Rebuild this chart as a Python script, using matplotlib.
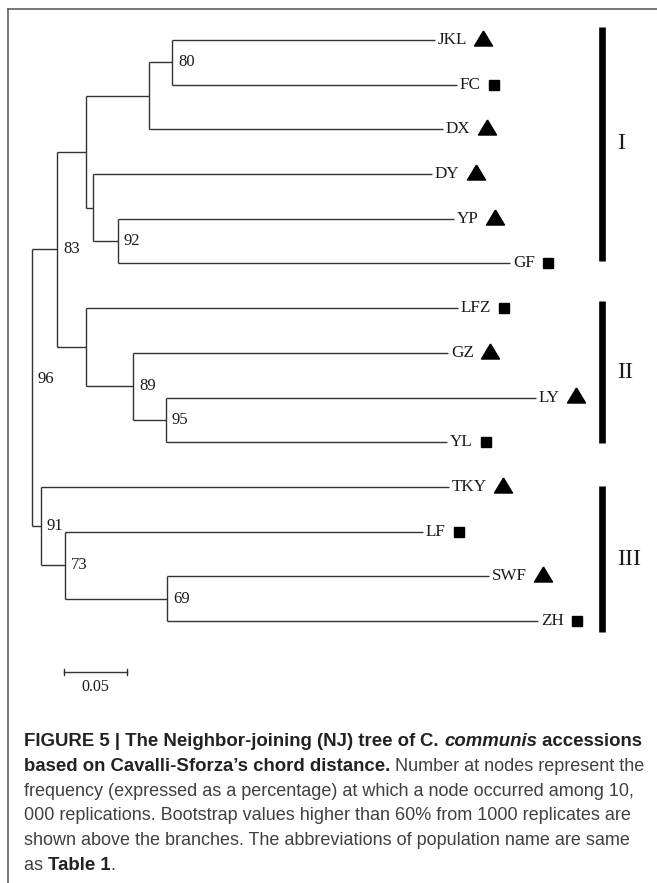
import matplotlib
matplotlib.use("Agg")
import matplotlib.pyplot as plt
from matplotlib.lines import Line2D

# ---------------- data ----------------
leaf_names = ["JKL", "FC", "DX", "DY", "YP", "GF", "LFZ", "GZ", "LY", "YL",
              "TKY", "LF", "SWF", "ZH"]
leaf_parent = ["n80", "n80", "nB", "nC", "n92", "n92", "nII", "n89", "n95", "n95",
               "n91", "n73", "n69", "n69"]
leaf_branch = [0.2087, 0.2262, 0.2333, 0.2690, 0.2667, 0.3111, 0.2952, 0.2500,
               0.2937, 0.2230, 0.3238, 0.2841, 0.2556, 0.2944]
leaf_symbol = ["tri", "sq", "tri", "tri", "tri", "sq", "sq", "tri", "tri", "sq",
               "tri", "sq", "tri", "sq"]

node_names = ["root", "n83", "nI", "nB", "n80", "nC", "n92", "nII", "n89", "n95",
              "n91", "n73", "n69"]
node_parent = [None, "root", "n83", "nI", "nB", "nI", "nC", "n83", "nII", "n89",
               "root", "n91", "n73"]
node_branch = [0.0, 0.0198, 0.0230, 0.0500, 0.0183, 0.0056, 0.0198, 0.0230,
               0.0373, 0.0262, 0.0071, 0.0190, 0.0810]
node_support = ["96", "83", "", "", "80", "", "92", "", "89", "95", "91", "73", "69"]

clade_labels = ["I", "II", "III"]
clade_top = [-0.30, 5.85, 9.98]      # in leaf-row units
clade_bottom = [4.95, 9.02, 13.25]

scale_length = 0.05
scale_label = "0.05"

caption_lines = [
    [("FIGURE 5 | The Neighbor-joining (NJ) tree of ", "bold", "normal"),
     ("C. ", "bold", "normal"), ("communis", "bold", "italic"),
     (" accessions", "bold", "normal")],
    [("based on Cavalli-Sforza\u2019s chord distance.", "bold", "normal"),
     (" Number at nodes represent the", "normal", "normal")],
    [("frequency (expressed as a percentage) at which a node occurred among 10,", "normal", "normal")],
    [("000 replications. Bootstrap values higher than 60% from 1000 replicates are", "normal", "normal")],
    [("shown above the branches. The abbreviations of population name are same", "normal", "normal")],
    [("as ", "normal", "normal"), ("Table 1", "bold", "normal"), (".", "normal", "normal")],
]

# ---------------- layout ----------------
W, H = 657, 883
DPI = 100
K = 0.05 / 63.0          # distance units per pixel
ROOT_PX = 32             # pixel x of root
ROW0_PX, ROW_PX = 40, 44.69

fig = plt.figure(figsize=(W / DPI, H / DPI), dpi=DPI)
ax = fig.add_axes([0, 0, 1, 1])
ax.set_xlim((0 - ROOT_PX) * K, (W - ROOT_PX) * K)
ax.set_ylim((H - ROW0_PX) / ROW_PX, (0 - ROW0_PX) / ROW_PX)
ax.axis("off")

serif = ["Liberation Serif", "DejaVu Serif"]
sans = ["Liberation Sans", "DejaVu Sans"]
line_col = "#333333"
lw = 1.0

# compute positions
xpos, ypos = {}, {}
children = {n: [] for n in node_names}
for i, n in enumerate(node_names):
    p = node_parent[i]
    if p is not None:
        children[p].append(n)
for i, n in enumerate(leaf_names):
    children[leaf_parent[i]].append(n)
branch = dict(zip(node_names, node_branch))
branch.update(dict(zip(leaf_names, leaf_branch)))
for i, n in enumerate(leaf_names):
    ypos[n] = i


def set_x(n, x0):
    xpos[n] = x0 + branch[n]
    for c in children.get(n, []):
        set_x(c, xpos[n])


def set_y(n):
    if n in ypos:
        return ypos[n]
    ys = [set_y(c) for c in children[n]]
    ypos[n] = (min(ys) + max(ys)) / 2.0
    return ypos[n]


set_x("root", 0.0)
set_y("root")

# draw branches
for n in node_names:
    ys = [ypos[c] for c in children[n]]
    ax.plot([xpos[n], xpos[n]], [min(ys), max(ys)], color=line_col, lw=lw,
            solid_capstyle="butt")
    for c in children[n]:
        ax.plot([xpos[n], xpos[c]], [ypos[c], ypos[c]], color=line_col, lw=lw,
                solid_capstyle="butt")

# support values
for n, s in zip(node_names, node_support):
    if s:
        ax.text(xpos[n] + 6 * K, ypos[n] - (0.19 if n == "root" else 0.0), s,
                fontsize=12, family=serif, va="center", ha="left", color="#1a1a1a")

# leaf labels and markers
fig.canvas.draw()
renderer = fig.canvas.get_renderer()
tri_marker = [(0, 1), (-1.2, -1), (1.2, -1), (0, 1)]
for i, n in enumerate(leaf_names):
    t = ax.text(xpos[n] + 3 * K, ypos[n], n, fontsize=12.3, family=serif,
                va="center", ha="left", color="#1a1a1a")
    bb = t.get_window_extent(renderer=renderer)
    x_end_px = bb.x1
    if leaf_symbol[i] == "tri":
        xm_px = x_end_px + 16
        xd = ax.transData.inverted().transform((xm_px, 0))[0]
        ax.plot([xd], [ypos[n] - 0.05], marker=tri_marker, ms=13, color="black",
                ls="none")
    else:
        xm_px = x_end_px + 13
        xd = ax.transData.inverted().transform((xm_px, 0))[0]
        ax.plot([xd], [ypos[n]], marker="s", ms=7.9, color="black", ls="none")

# clade bars
bar_x = (602 - ROOT_PX) * K
lab_x = (617 - ROOT_PX) * K
for lab, t0, t1 in zip(clade_labels, clade_top, clade_bottom):
    ax.plot([bar_x, bar_x], [t0, t1], color="black", lw=4.8, solid_capstyle="butt")
    ax.text(lab_x, (t0 + t1) / 2.0, lab, fontsize=17.5, family=serif,
            va="center", ha="left", color="#1a1a1a")

# scale bar
sb_x0 = (64 - ROOT_PX) * K
sb_y = (672 - ROW0_PX) / ROW_PX
ax.plot([sb_x0, sb_x0 + scale_length], [sb_y, sb_y], color=line_col, lw=1.0)
for xx in (sb_x0, sb_x0 + scale_length):
    ax.plot([xx, xx], [sb_y - 0.07, sb_y + 0.07], color=line_col, lw=1.0)
ax.text(sb_x0 + scale_length / 2.0, sb_y + 0.33, scale_label, fontsize=11.5,
        family=serif, ha="center", va="center", color="#1a1a1a")

# frame (left and top)
fig.add_artist(Line2D([8 / W, 8 / W], [0, 1 - 9 / H], transform=fig.transFigure,
                      color="#555555", lw=1.1))
fig.add_artist(Line2D([8 / W, 1], [1 - 9 / H, 1 - 9 / H], transform=fig.transFigure,
                      color="#555555", lw=1.1))


# caption
def run_width(txt, weight, style, size):
    t = fig.text(0, 0, "|" + txt + "|", fontsize=size, family=sans,
                 weight=weight, style=style)
    w1 = t.get_window_extent(renderer=renderer).width
    t.remove()
    t = fig.text(0, 0, "||", fontsize=size, family=sans, weight=weight,
                 style=style)
    w2 = t.get_window_extent(renderer=renderer).width
    t.remove()
    return w1 - w2


# fit bold size to the first caption line, regular size to the third
x_left = 24
w_bold = sum(run_width(t, w, s, 12.0) for t, w, s in caption_lines[0])
bold_size = 12.0 * (642 - x_left) / w_bold
w_reg = sum(run_width(t, w, s, 12.0) for t, w, s in caption_lines[2])
reg_size = 12.0 * (637 - x_left) / w_reg

base_y = 746
for li, runs in enumerate(caption_lines):
    x = x_left
    y = base_y + li * 24.8
    for txt, weight, style in runs:
        size = bold_size if weight == "bold" else reg_size
        col = "#222222" if weight == "bold" else "#404040"
        fig.text(x / W, 1 - y / H, txt, fontsize=size, family=sans,
                 weight=weight, style=style, color=col, va="baseline", ha="left")
        x += run_width(txt, weight, style, size)

fig.savefig("out.png", dpi=DPI)
